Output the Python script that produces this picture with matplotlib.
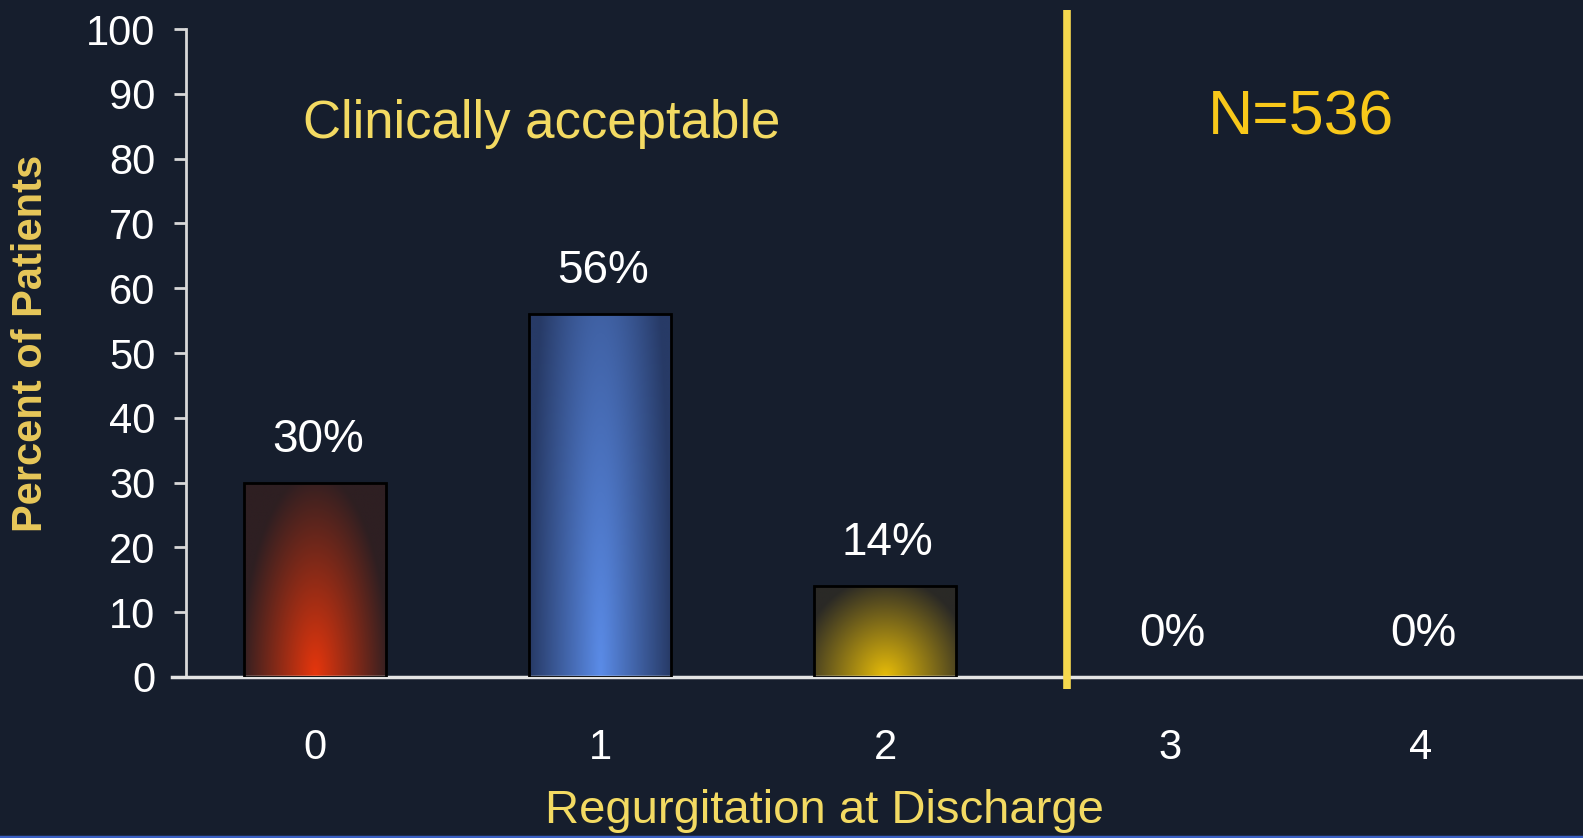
import numpy as np
import matplotlib.pyplot as plt
from matplotlib.colors import to_rgb

plt.rcParams['font.family'] = ['Liberation Sans', 'DejaVu Sans']

# regurgitation grade at discharge vs percent of patients
grades = ['0', '1', '2', '3', '4']
percent = [30, 56, 14, 0, 0]
pct_labels = ['30%', '56%', '14%', '0%', '0%']
n_total = 536

xpos = [0, 1, 2, 3, 3.88]
bg = '#161e2d'
yellow = '#f3da62'

# (dark, bright, x radius, y radius) for the shaded bars
shades = [('#2e1f22', '#e8360c', 1.05, 1.05),
          ('#273a66', '#5b8ce8', 1.0, 1.9),
          ('#2a2926', '#e8bd08', 1.25, 1.1)]

fig = plt.figure(figsize=(15.83, 8.38), dpi=100, facecolor=bg)
ax = fig.add_axes([186/1583, 1-677/838, 1-186/1583, 648/838], facecolor=bg)

bars = ax.bar(xpos, percent, width=0.5, facecolor='none', edgecolor='black',
              linewidth=[2 if p > 0 else 0 for p in percent], zorder=3)

def shade_bar(ax, b, dark, bright, rx, ry):
    u = np.linspace(-1, 1, 80)
    v = np.linspace(0, 1, 160)
    U, V = np.meshgrid(u, v)
    t = np.clip(1 - np.sqrt((U/rx)**2 + (V/ry)**2), 0, 1)
    d = np.array(to_rgb(dark))
    c = np.array(to_rgb(bright))
    img = d + (c - d)*t[..., None]
    x0 = b.get_x()
    im = ax.imshow(img, extent=(x0, x0 + b.get_width(), 0, b.get_height()),
                   origin='lower', aspect='auto', interpolation='bilinear', zorder=2)
    im.set_clip_path(b)

for b, s in zip(bars, shades):
    shade_bar(ax, b, *s)

for x, p, lab in zip(xpos, percent, pct_labels):
    ax.annotate(lab, (x + 0.01, p), xytext=(0, 43), textcoords='offset pixels',
                ha='center', va='center', color='white', fontsize=33)

ax.set_xlim(-0.4526, 4.449)
ax.set_ylim(0, 100)
ax.set_xticks(xpos)
ax.set_xticklabels(grades)
ax.set_yticks(range(0, 101, 10))
ax.tick_params(axis='x', length=0, pad=37, labelsize=30, colors='white')
ax.tick_params(axis='y', length=8.6, width=2, pad=13.5, labelsize=30,
               colors='white', color='#d8d8d8')

for s in ['top', 'right']:
    ax.spines[s].set_visible(False)
ax.spines['left'].set_color('#d8d8d8')
ax.spines['left'].set_linewidth(2)
ax.spines['bottom'].set_color('#e4e4e4')
ax.spines['bottom'].set_linewidth(2.5)
ax.spines['bottom'].set_bounds(-0.5, 4.5)

# divider between acceptable and unacceptable grades
ax.plot([2.64, 2.64], [-1.8, 103], color='#f5d84e', lw=5.5, clip_on=False,
        solid_capstyle='butt', zorder=4)

ax.text(0.796, 85.3, 'Clinically acceptable', ha='center', va='center',
        color=yellow, fontsize=38)
ax.text(3.46, 86.3, 'N=%d' % n_total, ha='center', va='center',
        color='#f8c81a', fontsize=45)

ax.set_xlabel('Regurgitation at Discharge', color=yellow, fontsize=34, va='center')
ax.xaxis.set_label_coords(0.457, -0.2068)
ax.set_ylabel('Percent of Patients', color='#e8c85a', fontsize=30,
              fontweight='bold', va='center')
ax.yaxis.set_label_coords(-0.1111, 0.5154)

# slide border at the bottom edge
fig.add_artist(plt.Line2D([0, 1], [0.0015, 0.0015], color='#3a60c4', lw=2.5))

fig.savefig('out.png', dpi=100, facecolor=bg)
